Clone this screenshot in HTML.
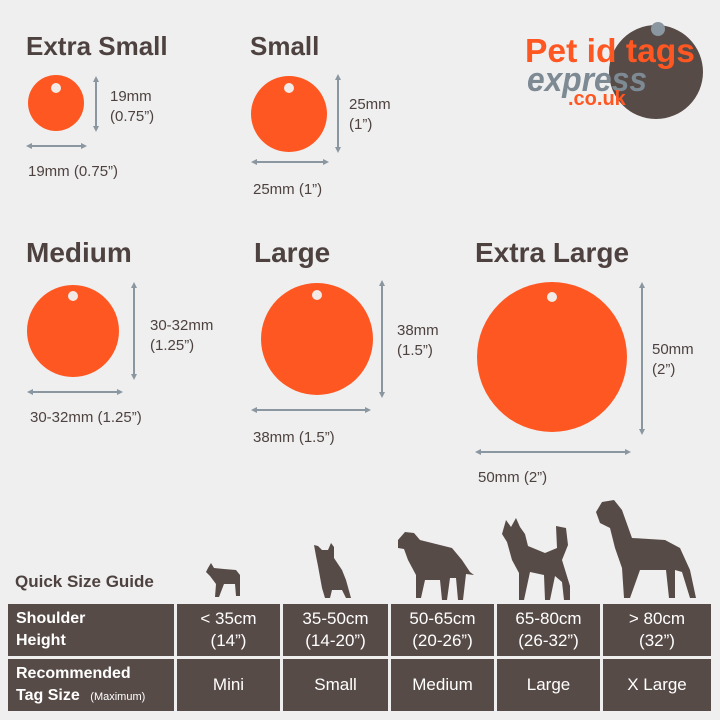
<!DOCTYPE html>
<html><head><meta charset="utf-8"><style>
*{margin:0;padding:0}
body{width:720px;height:720px;background:#efefef;position:relative;overflow:hidden;font-family:"Liberation Sans",sans-serif;color:#4a3f3c}
.t{position:absolute;font-weight:bold;color:#4d423f}
.l{position:absolute;font-size:15px;color:#4d423f;line-height:20px}
table{position:absolute;left:5px;top:601px;border-collapse:collapse;width:706px;table-layout:fixed}
td{background:#574b47;color:#fff;text-align:center;font-size:17px;line-height:22px;border:3px solid #efefef;height:52px}
td.h{text-align:left;padding-left:8px;font-weight:bold;font-size:16px}
</style></head><body>
<div class="t" style="left:26px;top:31px;font-size:26px">Extra Small</div>
<div class="t" style="left:250px;top:31px;font-size:26px">Small</div>
<div class="t" style="left:26px;top:237px;font-size:28px">Medium</div>
<div class="t" style="left:254px;top:237px;font-size:28px">Large</div>
<div class="t" style="left:475px;top:237px;font-size:28px">Extra Large</div>
<div class="l" style="left:110px;top:87px">19mm<br>(0.75”)</div>
<div class="l" style="left:28px;top:162px">19mm (0.75”)</div>
<div class="l" style="left:349px;top:95px">25mm<br>(1”)</div>
<div class="l" style="left:253px;top:180px">25mm (1”)</div>
<div class="l" style="left:150px;top:316px">30-32mm<br>(1.25”)</div>
<div class="l" style="left:30px;top:408px">30-32mm (1.25”)</div>
<div class="l" style="left:397px;top:321px">38mm<br>(1.5”)</div>
<div class="l" style="left:253px;top:428px">38mm (1.5”)</div>
<div class="l" style="left:652px;top:340px">50mm<br>(2”)</div>
<div class="l" style="left:478px;top:468px">50mm (2”)</div>
<div class="t" style="left:15px;top:572px;font-size:17px">Quick Size Guide</div>
<svg width="720" height="720" style="position:absolute;left:0;top:0">
<defs><marker id="a" markerWidth="6" markerHeight="6" refX="3" refY="3" orient="auto-start-reverse" markerUnits="userSpaceOnUse"><path d="M0,0 L6,3 L0,6" fill="#8a97a0"/></marker></defs>
<g fill="#ff5722">
<circle cx="56" cy="103" r="28"/><circle cx="289" cy="114" r="38"/><circle cx="73" cy="331" r="46"/><circle cx="317" cy="339" r="56"/><circle cx="552" cy="357" r="75"/></g>
<g fill="#f2eae6"><circle cx="56" cy="88" r="5"/><circle cx="289" cy="88" r="5"/><circle cx="73" cy="296" r="5"/><circle cx="317" cy="295" r="5"/><circle cx="552" cy="297" r="5"/></g>
<g stroke="#8a97a0" stroke-width="2" marker-start="url(#a)" marker-end="url(#a)">
<line x1="96" y1="79" x2="96" y2="129"/><line x1="29" y1="146" x2="84" y2="146"/>
<line x1="338" y1="77" x2="338" y2="150"/><line x1="254" y1="162" x2="326" y2="162"/>
<line x1="134" y1="285" x2="134" y2="377"/><line x1="30" y1="392" x2="120" y2="392"/>
<line x1="382" y1="283" x2="382" y2="395"/><line x1="254" y1="410" x2="368" y2="410"/>
<line x1="642" y1="285" x2="642" y2="432"/><line x1="478" y1="452" x2="628" y2="452"/>
</g>
<circle cx="656" cy="72" r="47" fill="#574b47"/><circle cx="658" cy="29" r="7" fill="#8a97a0"/>
<text x="525" y="62" font-size="33" font-weight="bold" fill="#ff5722" font-family="Liberation Sans" textLength="170" lengthAdjust="spacingAndGlyphs">Pet id tags</text>
<text x="527" y="91" font-size="34" font-weight="bold" font-style="italic" fill="#7d8a94" font-family="Liberation Sans" textLength="120" lengthAdjust="spacingAndGlyphs">express</text>
<text x="568" y="105" font-size="20" font-weight="bold" fill="#ff5722" font-family="Liberation Sans">.co.uk</text>
<g fill="#574b47">
<path d="M208,568 L211,563 L214,568 L224,569 L236,570 L240,575 L240,596 L236,596 L235,584 L224,584 L219,597 L215,597 L216,584 L210,576 L206,572Z"/>
<path d="M314,545 L318,546 L322,550 L328,550 L331,543 L334,547 L334,558 L342,570 L346,580 L351,598 L346,598 L342,590 L332,590 L330,598 L325,598 L322,588 L318,566 L316,556Z"/>
<path d="M398,540 L405,532 L414,533 L420,540 L452,548 L462,560 L470,572 L474,575 L466,574 L463,600 L458,600 L456,578 L450,578 L447,600 L442,600 L440,580 L425,580 L421,598 L416,598 L416,575 L408,560 L404,549 L398,548Z"/>
<path d="M502,534 L506,520 L511,527 L516,518 L520,527 L525,534 L528,546 L545,553 L557,548 L556,526 L566,528 L568,545 L562,560 L570,586 L570,600 L564,600 L562,582 L555,576 L550,600 L545,600 L544,575 L530,572 L524,600 L519,600 L519,573 L512,560 L507,542Z"/>
<path d="M596,512 L602,502 L614,500 L622,510 L632,538 L665,540 L680,548 L690,570 L696,598 L690,598 L682,572 L675,570 L675,598 L669,598 L666,570 L640,570 L630,598 L624,598 L622,568 L615,548 L610,528 L600,523Z"/>
</g>
</svg>
<table>
<colgroup><col style="width:169px"><col style="width:106px"><col style="width:108px"><col style="width:106px"><col style="width:106px"><col style="width:111px"></colgroup>
<tr><td class="h">Shoulder<br>Height</td><td>&lt; 35cm<br>(14”)</td><td>35-50cm<br>(14-20”)</td><td>50-65cm<br>(20-26”)</td><td>65-80cm<br>(26-32”)</td><td>&gt; 80cm<br>(32”)</td></tr>
<tr><td class="h">Recommended<br>Tag Size <span style="font-weight:normal;font-size:11px">&nbsp;&nbsp;(Maximum)</span></td><td>Mini</td><td>Small</td><td>Medium</td><td>Large</td><td>X Large</td></tr>
</table>
</body></html>
